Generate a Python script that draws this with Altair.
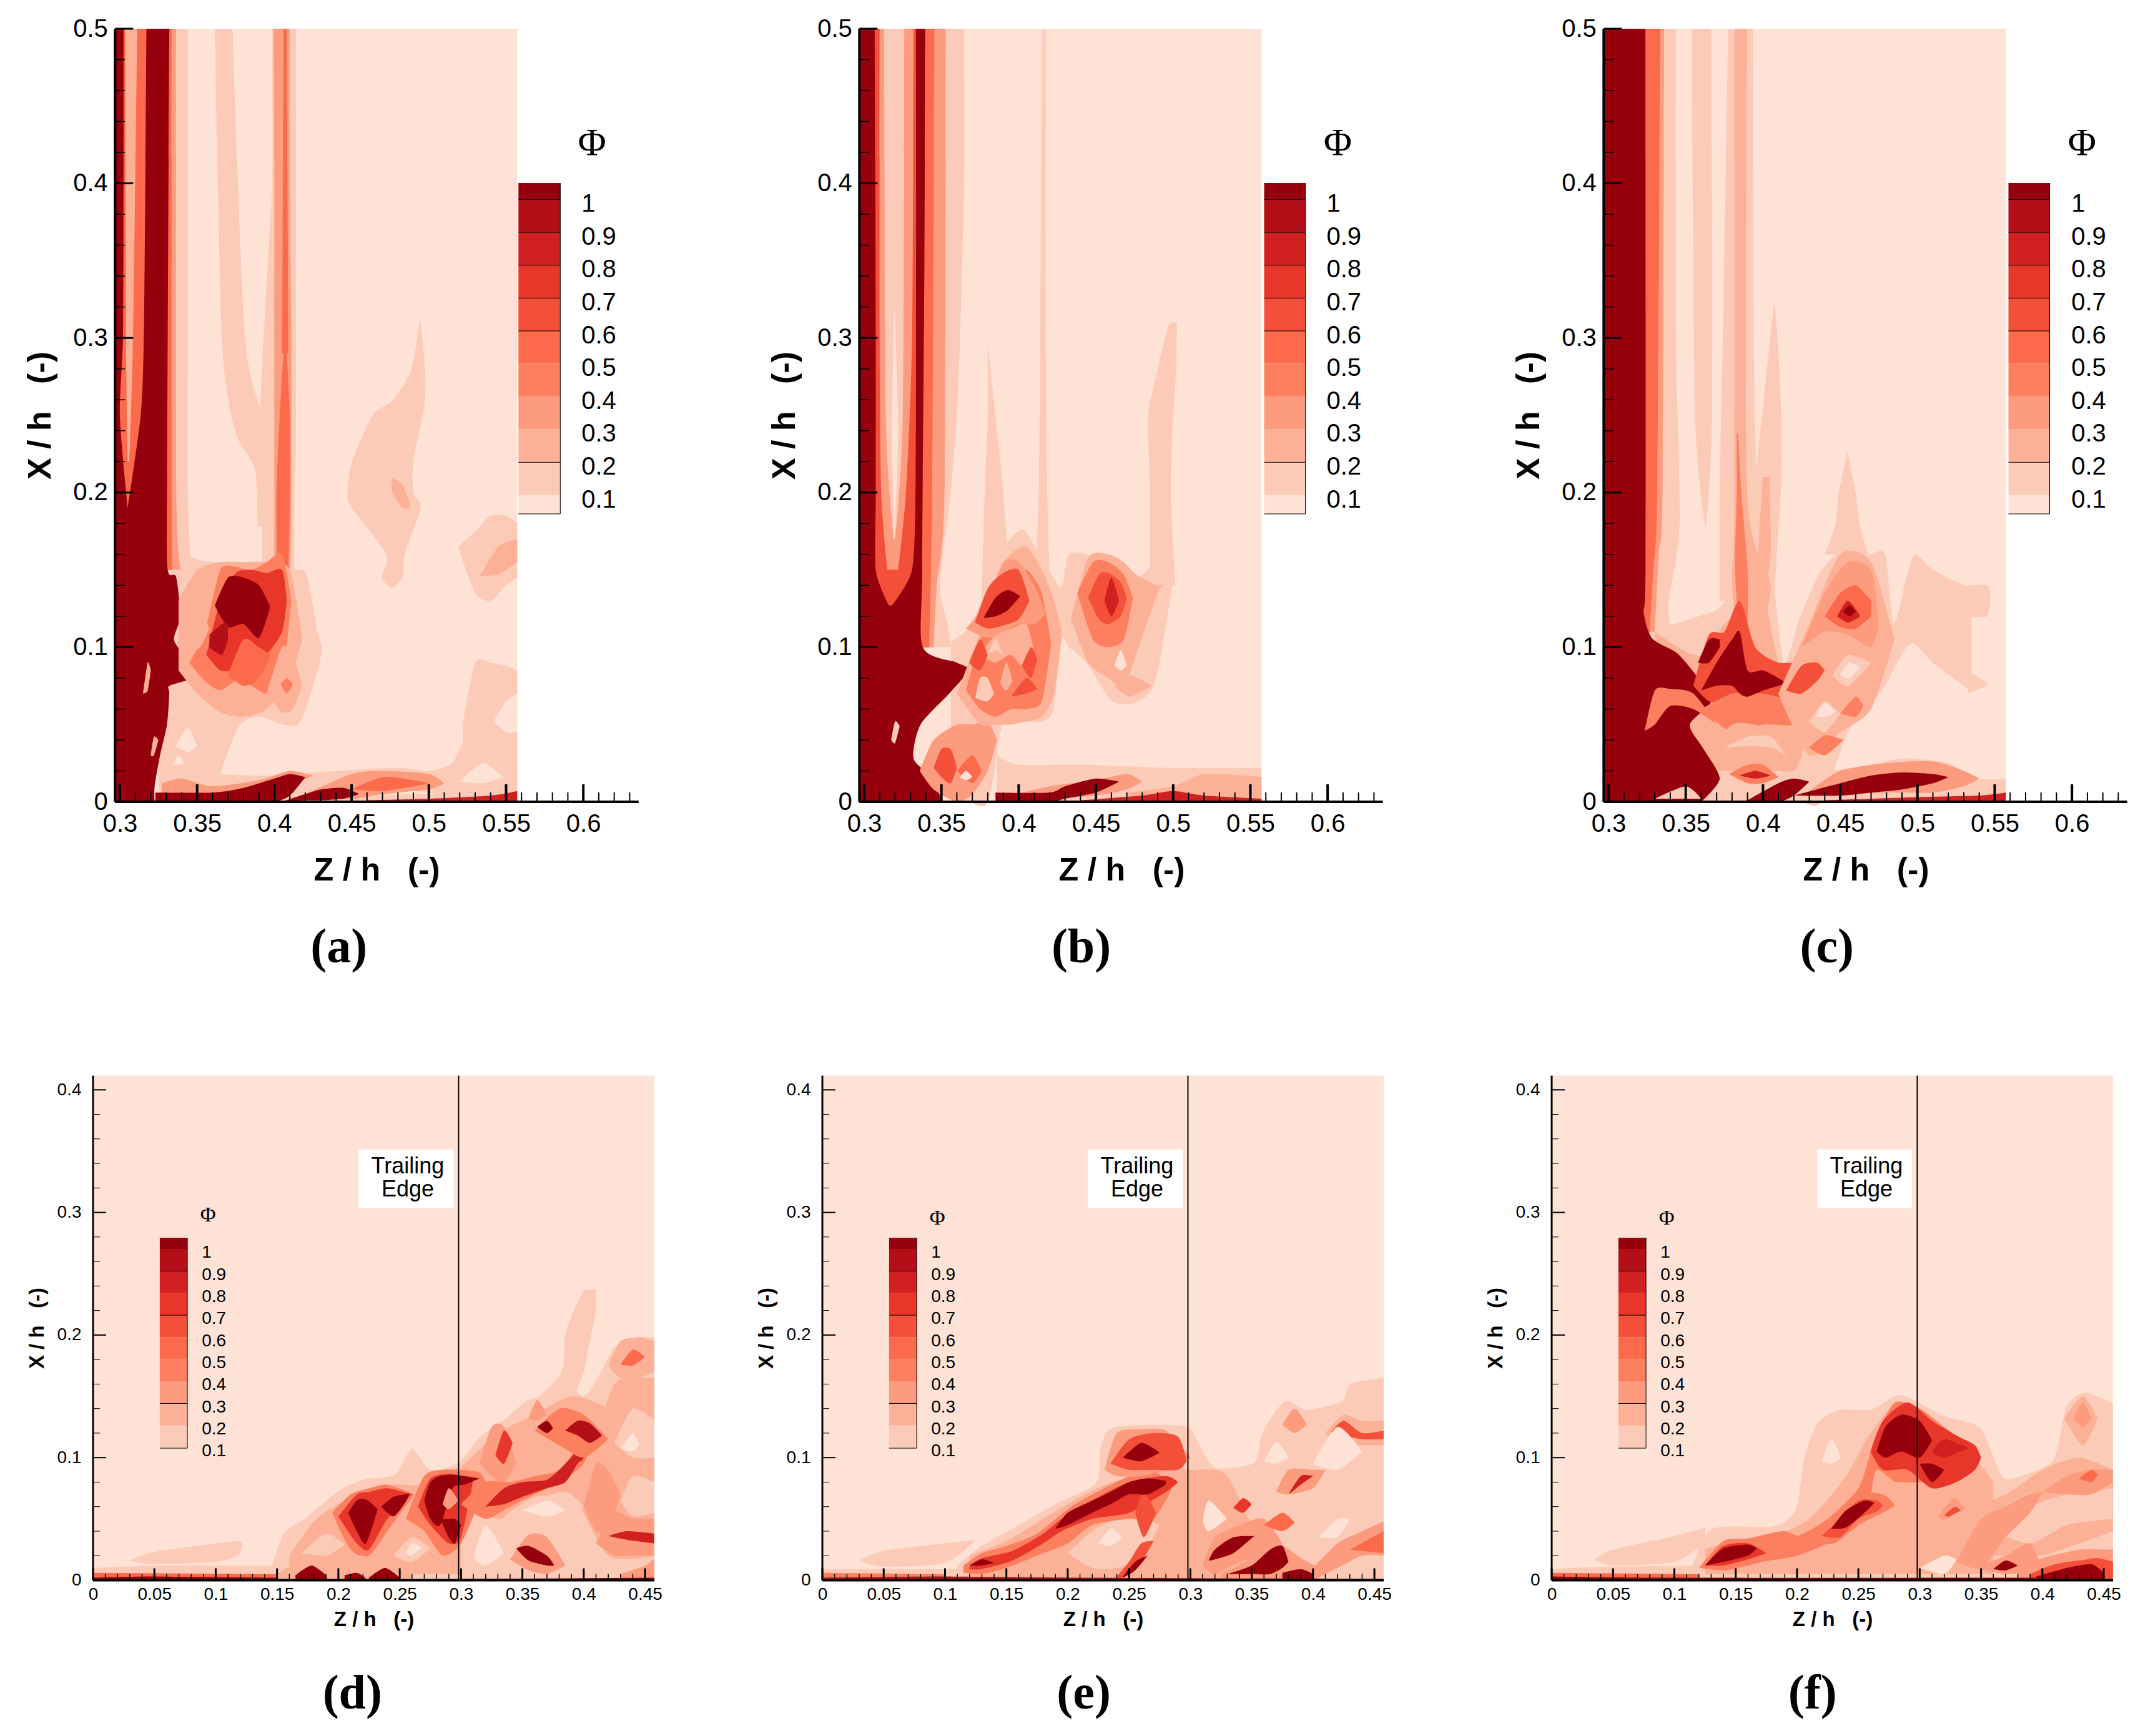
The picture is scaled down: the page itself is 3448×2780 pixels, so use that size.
import altair as alt
import pandas as pd

COL = ['#fee2d6','#fccbb8','#fcb196','#fc9b7d','#fc8060','#fb6a4a','#f44f39','#e9362b','#d02020','#b40f18','#96000c']
LEVEL_LABELS = ['1','0.9','0.8','0.7','0.6','0.5','0.4','0.3','0.2','0.1']

# each shape: band index, orientation, stations along the orientation, lower edge, upper edge
A = [
(1,'h',[.15,.2,.3,.5],.297,[.346,.344,.344,.344]),
(1,'v',[.325,.335,.345,.36,.369,.378,.39,.405,.415,.421,.428,.431],[.005,.005,.005,.005,.03,.05,.055,.05,.05,.062,.085,.098],[.15,.19,.16,.155,.155,.155,.155,.155,.15,.147,.11,.1]),
(1,'v',[.33,.36,.4,.44,.48,.5,.515,.525,.5572],0,[.02,.018,.017,.02,.022,.02,.025,.04,.04]),
(1,'v',[.522,.53,.54,.55,.5572],0,[.05,.09,.09,.088,.085]),
(0,'v',[.542,.55,.5572],[.052,.045,.045],[.052,.065,.07]),
(0,'v',[.52,.535,.548],[.013,.012,.016],[.013,.025,.016]),
(1,'v',[.519,.53,.54,.55,.5572],[.165,.135,.13,.14,.145],[.165,.175,.185,.185,.18]),
(2,'v',[.533,.545,.5572],[.146,.147,.155],[.146,.165,.17]),
(1,'h',[.138,.145,.16,.19,.2,.22,.25,.26,.28,.31],[.476,.4695,.4725,.4503,.4473,.4503,.4636,.477,.4888,.4938],[.476,.483,.4843,.4947,.49,.49,.496,.4976,.4976,.4947]),
(2,'v',[.476,.483,.488],[.2,.19,.19],[.21,.205,.192]),
(1,'h',[.178,.215,.24,.3,.5],[.389,.3875,.3745,.366,.3615],[.393,.395,.395,.381,.373]),
(1,'h',[.15,.2,.23,.3,.4,.5],[.392,.392,.39,.393,.3985,.3985],[.413,.413,.414,.414,.414,.414]),
(3,'h',[.14,.2,.3,.4,.5],[.4,.4,.4,.4,.3995],[.41,.411,.411,.41,.41]),
(5,'h',[.14,.2,.25,.29],[.402,.4015,.4035,.406],[.409,.41,.41,.408]),
(5,'h',[.29,.5],[.405,.406],[.409,.408]),
(3,'h',[.15,.2,.5],.297,[.3395,.3365,.3364]),
(5,'h',[.15,.2,.5],.297,[.334,.3335,.3335]),
(10,'h',[0,.01,.03,.05,.07,.075,.08,.088,.095,.105,.12,.1455,.15,.2,.5],.297,[.3225,.3225,.326,.3305,.332,.332,.3467,.351,.342,.335,.339,.3364,.331,.3305,.332]),
(5,'h',[.19,.25,.3,.4,.5],[.305,.3,.302,.3024,.3024],[.305,.3135,.3155,.3165,.3172]),
(2,'h',[.22,.3,.5],[.305,.304,.3035],[.306,.3085,.3112]),
(2,'v',[.338,.35,.365,.38,.395,.41,.418],[.085,.07,.058,.055,.06,.08,.105],[.13,.15,.155,.155,.155,.15,.105]),
(4,'v',[.345,.355,.365,.375,.385,.395,.405,.411],[.09,.078,.072,.078,.075,.07,.08,.13],[.09,.11,.15,.152,.15,.155,.16,.13]),
(2,'v',[.337,.345,.352,.358],[.102,.098,.1,.112],[.102,.125,.125,.112]),
(7,'v',[.356,.365,.375,.385,.395,.405,.408],[.095,.085,.085,.085,.095,.11,.13],[.095,.13,.148,.15,.148,.15,.13]),
(10,'v',[.3615,.37,.38,.39,.397],[.127,.113,.115,.106,.125],[.127,.145,.145,.14,.127]),
(9,'v',[.358,.366,.37],[.1,.095,.105],[.108,.115,.115]),
(5,'v',[.37,.38,.39,.398],[.082,.075,.08,.095],[.082,.105,.1,.095]),
(2,'v',[.395,.405,.412,.418],[.07,.058,.06,.075],[.07,.1,.095,.075]),
(4,'v',[.404,.408,.412],[.076,.07,.076],[.076,.08,.076]),
(0,'v',[.336,.344,.35],[.036,.032,.036],[.036,.048,.036]),
(0,'v',[.334,.338,.342],[.024,.024,.024],[.024,.03,.024]),
(3,'v',[.327,.34,.36,.39,.41,.425],[0,0,0,0,.01,.017],[.012,.015,.01,.014,.02,.017]),
(10,'v',[.323,.36,.38,.4,.41,.42],[0,0,0,0,.004,.016],[.006,.006,.009,.015,.018,.016]),
(3,'v',[.42,.45,.47,.5,.51],[.005,.002,.005,.008,.012],[.005,.018,.02,.018,.012]),
(5,'v',[.45,.47,.49,.5],[.008,.007,.01,.012],[.008,.016,.014,.012]),
(10,'v',[.405,.42,.43,.445,.455],[0,.001,.001,.002,.005],[0,.005,.008,.009,.005]),
(0,'v',[.47,.49,.505],[.004,.005,.005],[.004,.007,.005]),
(8,'v',[.46,.5,.54,.5572],0,[.001,.002,.004,.007]),
(2,'v',[.315,.318,.32],[.07,.072,.085],[.07,.09,.085]),
(2,'v',[.32,.322,.325],[.03,.03,.04],[.03,.042,.04]),
]

B = [
(1,'h',[.1,.115,.14,.2,.27,.4,.5],.297,[.356,.354,.349,.356,.361,.3647,.3647]),
(1,'v',[.3562,.3675,.3802,.3901,.4028,.4155,.4226,.428,.4325,.4438,.4607,.4777,.489,.5003],[0,0,0,.052,.052,.052,.06,.105,.1,.09,.065,.065,.08,.145],[.104,.1125,.139,.164,.176,.156,.145,.139,.16,.16,.152,.1455,.156,.156]),
(1,'h',[.13,.2,.25,.296],[.376,.378,.38,.38],[.395,.39,.385,.38]),
(1,'h',[.15,.2,.3,.4,.5],[.411,.413,.414,.4145,.4155],[.42,.4185,.4175,.4175,.4175]),
(1,'h',[.14,.2,.25,.28,.31],[.485,.485,.484,.49,.4975],[.5015,.4985,.5,.502,.5025]),
(1,'v',[.386,.4,.44,.5,.5572],0,[.03,.024,.024,.022,.022]),
(2,'v',[.47,.5,.52,.5572],0,[.006,.01,.018,.016]),
(3,'h',[.1,.14,.2,.5],.297,[.345,.347,.352,.3528]),
(5,'h',[.1,.2,.5],.297,[.342,.344,.3455]),
(10,'h',[0,.015,.028,.05,.07,.085,.09,.1,.15,.35,.5],.297,[.35,.345,.332,.3365,.355,.3675,.36,.338,.3375,.339,.3395]),
(6,'h',[.127,.15,.2,.3,.5],[.316,.3075,.3075,.3075,.3068],[.318,.331,.3332,.3336,.3336]),
(3,'h',[.15,.2,.3,.5],[.315,.311,.31,.31],[.322,.327,.331,.332]),
(1,'h',[.17,.25,.5],[.319,.314,.313],[.32,.325,.326]),
(0,'h',[.17,.24,.32],[.3195,.318,.3195],[.3195,.322,.3195]),
(3,'v',[.336,.345,.36,.37,.38,.386],[.02,.008,0,.005,.02,.04],[.02,.04,.05,.05,.052,.04]),
(6,'v',[.345,.35,.356,.36],[.022,.016,.012,.022],[.022,.034,.034,.022]),
(5,'v',[.36,.37,.376],[.02,.012,.02],[.02,.03,.02]),
(0,'v',[.362,.366,.37],[.016,.014,.016],[.016,.02,.016]),
(2,'v',[.36,.375,.385,.395,.405,.415,.423,.428],[.07,.05,.05,.05,.052,.055,.07,.11],[.07,.11,.145,.16,.165,.15,.13,.11]),
(4,'v',[.366,.375,.385,.395,.405,.415,.421],[.072,.06,.055,.06,.06,.065,.102],[.072,.105,.125,.14,.15,.135,.102]),
(2,'v',[.375,.385,.395,.405,.41],[.095,.09,.095,.085,.097],[.095,.108,.112,.115,.097]),
(1,'v',[.38,.385,.39],[.095,.098,.095],[.095,.105,.095]),
(1,'v',[.372,.375,.38,.384],[.067,.066,.065,.07],[.067,.08,.08,.07]),
(2,'v',[.388,.392,.396],[.077,.072,.078],[.077,.09,.078]),
(6,'v',[.395,.405,.412],[.068,.07,.073],[.068,.08,.073]),
(6,'v',[.402,.408,.412],[.088,.08,.092],[.088,.1,.092]),
(6,'v',[.368,.375,.38],[.09,.085,.095],[.09,.105,.095]),
(3,'v',[.366,.38,.39,.4,.41,.418],[.112,.106,.11,.115,.115,.122],[.112,.13,.155,.155,.14,.122]),
(6,'v',[.3718,.38,.39,.4,.407],[.116,.112,.114,.118,.13],[.116,.138,.148,.15,.13]),
(10,'v',[.3774,.385,.393,.401],[.119,.12,.124,.133],[.119,.132,.137,.133]),
(2,'v',[.4339,.445,.458,.468,.476,.49,.497],[.118,.09,.08,.075,.095,.135,.142],[.118,.158,.16,.155,.147,.14,.142]),
(2,'v',[.462,.472,.486],[.075,.068,.075],[.075,.082,.075]),
(0,'v',[.462,.466,.47],[.088,.085,.088],[.088,.098,.088]),
(4,'v',[.438,.448,.458,.468,.474],[.135,.105,.1,.105,.132],[.135,.155,.155,.147,.132]),
(6,'v',[.445,.452,.458,.466,.47],[.132,.118,.115,.12,.132],[.132,.147,.148,.142,.132]),
(8,'v',[.4555,.46,.465],[.13,.12,.13],[.13,.145,.13]),
(3,'v',[.386,.42,.45,.47,.48],[.002,.002,.004,.008,.013],[.002,.01,.014,.018,.013]),
(10,'v',[.385,.42,.43,.45,.465],[0,0,.002,.006,.013],[.006,.006,.01,.015,.013]),
(8,'v',[.44,.48,.5,.52,.5572],0,[.001,.004,.007,.004,.002]),
(1,'v',[.3175,.32,.323],[.04,.038,.049],[.04,.052,.049]),
]

C = [
(1,'h',[.115,.13,.18,.3,.5],.297,[.34,.339,.346,.3437,.3437]),
(1,'h',[.176,.25,.5],[.363,.356,.354],[.363,.367,.3665]),
(1,'h',[.13,.2,.3,.5],[.372,.372,.374,.3775],[.398,.396,.394,.3934]),
(1,'h',[.09,.13,.16,.21,.25,.29,.325],[.395,.395,.395,.3953,.3995,.4036,.4075],[.4132,.408,.409,.412,.4118,.41,.4075]),
(1,'v',[.3253,.3376,.3582,.3733,.3967,.405,.4132,.4242,.438,.4544,.468,.479,.4846,.4929,.4984,.51,.53,.535],[0,0,0,0,0,0,0,0,0,.044,.061,.075,.0857,.1,.102,.09,.075,.07],[.13,.115,.12,.127,.16,.16,.09,.12,.15,.165,.16,.16,.115,.145,.16,.15,.14,.14]),
(1,'v',[.5327,.545,.547],[.12,.12,.13],[.14,.14,.135]),
(1,'v',[.5327,.545],[.07,.075],[.085,.077]),
(1,'h',[.16,.18,.2,.226],[.44,.447,.449,.4547],[.468,.4625,.46,.4547]),
(1,'v',[.438,.46,.49,.52,.535,.5572],0,[.02,.022,.028,.025,.015,.015]),
(3,'h',[.11,.16,.2,.5],.297,[.33,.3325,.335,.336]),
(5,'h',[.1,.15,.2,.5],.297,[.326,.329,.3315,.3335]),
(2,'v',[.33,.345,.36,.375,.39,.4,.41,.42,.425,.432],[.02,.02,.02,.02,.02,.02,.02,.02,.03,.065],[.11,.1,.095,.115,.125,.135,.09,.08,.08,.065]),
(2,'h',[.1,.14,.2,.5],[.385,.38,.3816,.3816],[.395,.405,.3898,.3898]),
(4,'h',[.1,.15,.2,.238],[.385,.382,.383,.383],[.39,.39,.386,.384]),
(2,'h',[.13,.16,.21],[.4,.397,.4],[.4,.405,.404]),
(10,'h',[0,.015,.035,.05,.065,.08,.096,.106,.125,.155,.5],.297,[.36,.372,.361,.3527,.3665,.358,.3445,.328,.3225,.324,.3239]),
(4,'v',[.3235,.33,.34,.355,.37],[.046,.05,.062,.06,.05],[.046,.072,.073,.07,.05]),
(6,'v',[.355,.365,.375,.385,.395,.41,.425,.432],[.075,.065,.065,.06,.058,.065,.068,.082],[.075,.108,.11,.13,.1,.09,.09,.082]),
(4,'v',[.36,.38,.4,.42,.43],[.06,.045,.05,.05,.062],[.06,.07,.07,.065,.062]),
(10,'v',[.36,.37,.38,.385,.39,.4,.41,.415],[.072,.075,.075,.07,.068,.072,.075,.077],[.072,.09,.105,.11,.085,.085,.08,.077]),
(10,'v',[.358,.365,.372],[.09,.09,.1],[.09,.105,.105]),
(2,'v',[.365,.38,.4,.41],[.03,.03,.03,.032],[.03,.05,.048,.032]),
(1,'v',[.375,.39,.405,.415],[.035,.036,.035,.03],[.035,.042,.042,.03]),
(4,'v',[.378,.39,.4,.41],[.018,.012,.012,.016],[.018,.024,.024,.016]),
(8,'v',[.385,.395,.405],[.017,.015,.017],[.017,.02,.017]),
(2,'v',[.41,.43,.45,.47,.485],[.07,.03,.045,.06,.105],[.07,.115,.16,.155,.105]),
(3,'v',[.425,.44,.455,.47,.475],[.1,.11,.108,.1,.115],[.1,.135,.155,.15,.115]),
(5,'v',[.44,.45,.46,.47],[.12,.113,.112,.12],[.12,.135,.14,.13]),
(8,'v',[.448,.455,.463],[.12,.116,.12],[.12,.13,.12]),
(10,'v',[.452,.456,.46],[.123,.12,.123],[.123,.127,.123]),
(6,'v',[.415,.425,.435,.44],[.072,.07,.078,.085],[.072,.088,.09,.085]),
(1,'v',[.445,.455,.47],[.082,.075,.09],[.082,.095,.09]),
(0,'v',[.45,.456,.463],[.082,.08,.087],[.082,.09,.087]),
(1,'v',[.43,.44,.45],[.052,.045,.057],[.052,.065,.057]),
(0,'v',[.434,.44,.447],[.055,.055,.058],[.055,.064,.058]),
(4,'v',[.45,.46,.465],[.057,.055,.062],[.057,.068,.062]),
(4,'v',[.43,.44,.452],[.035,.03,.04],[.035,.043,.04]),
(10,'v',[.39,.41,.42,.43],[0,0,.004,.013],[.001,.012,.015,.013]),
(3,'v',[.43,.45,.48,.51,.53,.54],[.007,.005,.006,.006,.01,.015],[.007,.02,.025,.026,.02,.015]),
(10,'v',[.42,.45,.47,.49,.51,.52],[.004,.004,.006,.008,.012,.016],[.004,.012,.017,.019,.018,.016]),
(8,'v',[.44,.5,.54,.5572],0,[.001,.003,.004,.006]),
(1,'v',[.33,.35,.36],[.002,.002,.002],[.002,.01,.002]),
]

D = [
(1,'v',[.03,.05,.1,.118,.122],[.016,.013,.015,.02,.029],[.016,.023,.03,.032,.029]),
(1,'v',[0,.05,.1,.122,.146],0,[.01,.012,.012,.012,.012]),
(1,'v',[.146,.156,.174,.199,.22,.246,.26,.275,.298,.316,.334,.353,.364,.382,.4,.414,.425,.442,.4575],0,[.012,.039,.051,.072,.082,.086,.107,.09,.096,.1175,.13,.146,.15,.165,.15,.17,.19,.198,.198]),
(1,'h',[.15,.17,.2,.22,.237],[.364,.382,.385,.392,.4],[.392,.4,.406,.41,.41]),
(2,'v',[.16,.18,.2,.22,.245,.265,.285,.3],.005,[.02,.048,.062,.072,.078,.078,.088,.092]),
(2,'v',[.3,.33,.36,.39,.42,.4575],[.07,.05,.065,.07,.02,.02],[.092,.12,.135,.15,.14,.11]),
(1,'v',[.17,.19,.205],[.022,.02,.029],[.022,.038,.029]),
(1,'v',[.245,.26,.275],[.02,.015,.026],[.02,.035,.026]),
(0,'v',[.255,.26,.268],[.022,.02,.027],[.022,.03,.027]),
(1,'v',[.3,.32,.34,.36,.38,.4],[0,.005,.01,.02,.01,0],[.04,.05,.045,.04,.03,.04]),
(0,'v',[.31,.32,.335],[.018,.012,.022],[.018,.045,.022]),
(1,'v',[.335,.36,.39,.4],[.052,.05,.05,.06],[.052,.068,.068,.06]),
(0,'v',[.35,.37,.385],[.057,.052,.057],[.057,.065,.057]),
(2,'v',[.41,.425,.44,.4575],[.12,.09,.08,.08],[.12,.16,.165,.165]),
(1,'v',[.425,.44,.4575],[.112,.1,.1],[.112,.14,.13]),
(0,'v',[.43,.44,.445],[.107,.105,.11],[.107,.12,.11]),
(3,'v',[.4,.41,.42,.43],[.06,.04,.04,.07],[.06,.095,.09,.07]),
(1,'v',[.43,.44,.4575],[.065,.052,.055],[.065,.085,.08]),
(4,'v',[.195,.21,.225,.24,.262],[.055,.025,.02,.04,.07],[.055,.07,.075,.078,.07]),
(7,'v',[.2,.215,.225,.24,.26],[.052,.03,.025,.05,.07],[.052,.07,.072,.075,.07]),
(10,'v',[.208,.215,.2225,.232],[.055,.04,.03,.058],[.055,.065,.066,.058]),
(10,'v',[.235,.245,.255,.258],[.06,.052,.064,.071],[.06,.068,.07,.071]),
(4,'v',[.255,.27,.285,.3,.315,.32],[.05,.04,.02,.03,.065,.08],[.05,.085,.09,.09,.088,.08]),
(7,'v',[.265,.275,.29,.3,.31],[.06,.045,.03,.035,.082],[.06,.083,.087,.085,.082]),
(10,'v',[.27,.275,.283,.293,.303,.315],[.065,.05,.045,.075,.078,.083],[.065,.08,.085,.086,.085,.083]),
(10,'v',[.283,.29,.295,.3],[.05,.035,.03,.045],[.05,.05,.05,.045]),
(3,'v',[.285,.29,.298],[.062,.058,.065],[.062,.075,.065]),
(3,'v',[.315,.325,.335,.345],[.095,.085,.08,.095],[.095,.125,.125,.095]),
(7,'v',[.328,.335,.342],[.102,.095,.112],[.102,.122,.112]),
(4,'v',[.3,.32,.34,.36,.38,.4,.41],[.062,.05,.06,.07,.08,.095,.122],[.062,.08,.08,.085,.09,.115,.122]),
(8,'v',[.32,.335,.35,.37,.385,.395,.4,.405],[.06,.062,.068,.075,.08,.095,.1,.12],[.06,.075,.08,.082,.095,.107,.12,.12]),
(4,'v',[.36,.38,.4,.42],[.122,.11,.1,.115],[.122,.14,.135,.115]),
(10,'v',[.362,.37,.375],[.125,.12,.124],[.125,.13,.124]),
(9,'v',[.385,.395,.405,.415],[.122,.118,.112,.118],[.122,.13,.128,.118]),
(3,'v',[.355,.362,.37],[.132,.13,.135],[.132,.147,.135]),
(3,'v',[.34,.355,.37,.385],[.017,.008,.005,.012],[.017,.037,.035,.012]),
(10,'v',[.345,.355,.37,.376],[.026,.016,.012,.012],[.026,.028,.02,.012]),
(3,'v',[.41,.425,.44,.4575],[.03,.02,.02,.02],[.03,.055,.05,.05]),
(8,'v',[.42,.435,.4575],[.036,.033,.03],[.036,.04,.038]),
(2,'v',[.42,.43,.445,.4575],[.175,.165,.165,.17],[.175,.195,.198,.195]),
(5,'v',[.43,.44,.45],[.176,.175,.182],[.176,.188,.182]),
(2,'v',[.15,.165,.18,.2,.22,.24,.26],0,[.005,.014,.018,.008,.006,.015,.004]),
(10,'v',[.165,.178,.19],0,[.004,.012,.004]),
(10,'v',[.205,.215,.222],0,[.004,.006,.002]),
(10,'v',[.225,.238,.25],0,[.002,.01,.002]),
(5,'v',[0,.15],0,[.006,.005]),
(10,'v',[0,.05,.15],0,[.002,.003,.002]),
(3,'v',[.43,.45,.4575],0,[.005,.012,.018]),
(10,'v',[.3,.4575],0,[.001,.002]),
]

E = [
(1,'v',[0,.1,.12],0,[.009,.009,.009]),
(1,'v',[.03,.05,.1,.125],[.016,.011,.014,.033],[.016,.024,.03,.033]),
(1,'v',[.11,.13,.16,.19,.223,.2268,.2375,.2947,.3054,.3144,.3233,.352,.359,.377,.395,.4235,.4306,.4575],0,[.012,.028,.045,.062,.079,.107,.1245,.126,.114,.098,.091,.096,.121,.146,.139,.146,.16,.165]),
(2,'v',[.12,.15,.18,.21,.235],0,[.02,.032,.05,.068,.08]),
(2,'v',[.235,.26,.28,.3,.33,.36],0,[.08,.085,.09,.09,.085,.02]),
(1,'v',[.2,.22,.24,.26,.275],[.022,.01,.01,.02,.045],[.022,.04,.05,.05,.045]),
(0,'v',[.225,.235,.245],[.03,.028,.035],[.03,.042,.035]),
(4,'v',[.115,.13,.15,.175,.2,.22,.25,.27,.285],[.006,.005,.01,.02,.03,.045,.05,.05,.075],[.012,.022,.028,.038,.058,.07,.085,.09,.075]),
(7,'v',[.12,.13,.155,.18,.195,.22,.25,.28,.29],[.009,.009,.016,.03,.04,.05,.055,.072,.08],[.012,.018,.024,.038,.05,.065,.08,.085,.08]),
(6,'v',[.255,.262,.272],[.055,.035,.055],[.055,.072,.055]),
(10,'v',[.19,.2,.22,.235,.25,.265,.28],[.042,.045,.055,.062,.07,.07,.078],[.042,.055,.065,.072,.08,.083,.081]),
(10,'v',[.12,.13,.14],[.012,.012,.014],[.012,.017,.014]),
(3,'v',[.23,.24,.26,.28,.3],[.09,.085,.085,.09,.1],[.09,.12,.123,.122,.1]),
(6,'v',[.235,.25,.27,.29,.297],[.095,.09,.09,.09,.097],[.095,.115,.12,.117,.097]),
(10,'v',[.245,.26,.275],[.1,.097,.104],[.1,.112,.104]),
(6,'v',[.24,.25,.26,.27],[0,.005,.015,.032],[.003,.015,.03,.032]),
(10,'v',[.245,.255,.265],[.002,.008,.02],[.003,.015,.02]),
(0,'v',[.31,.315,.33],[.048,.04,.05],[.048,.065,.05]),
(3,'v',[.31,.32,.34,.36,.375],[.012,.005,.015,.02,.03],[.012,.035,.045,.05,.03]),
(10,'v',[.315,.32,.335,.352],[.016,.017,.022,.036],[.016,.025,.035,.036]),
(3,'v',[.325,.345,.37,.39,.405],0,[.005,.015,.03,.018,.01]),
(10,'v',[.33,.35,.365,.375,.38],[.005,.005,.005,.01,.015],[.005,.012,.025,.028,.015]),
(10,'v',[.375,.39,.4],0,[.006,.009,.005]),
(7,'v',[.335,.343,.35],[.059,.055,.062],[.059,.067,.062]),
(3,'v',[.37,.38,.4,.41],[.072,.07,.075,.09],[.072,.09,.09,.09]),
(8,'v',[.38,.39,.4],[.07,.078,.085],[.07,.085,.085]),
(2,'v',[.41,.425,.44,.4575],[.12,.11,.11,.11],[.12,.135,.13,.13]),
(6,'v',[.415,.425,.44,.4575],[.121,.118,.115,.115],[.121,.13,.12,.122]),
(3,'v',[.375,.385,.395],[.127,.12,.127],[.127,.14,.127]),
(0,'v',[.36,.37,.38],[.097,.095,.1],[.097,.113,.1]),
(0,'v',[.4,.42,.44],[.095,.09,.105],[.095,.125,.105]),
(3,'v',[.4,.42,.44,.4575],[0,.01,.02,.02],[.01,.03,.04,.048]),
(5,'v',[.43,.4575],[.025,.022],[.025,.04]),
(0,'v',[.405,.42,.43],[.035,.035,.05],[.035,.05,.05]),
(5,'v',[.36,.375,.385],[.045,.04,.047],[.045,.055,.047]),
(4,'v',[0,.1],0,[.006,.005]),
(9,'v',[0,.1,.22,.4575],0,[.002,.003,.002,.001]),
]

F = [
(1,'v',[0,.04,.12],0,[.009,.011,.012]),
(1,'v',[.035,.05,.1,.125],[.017,.012,.015,.03],[.017,.025,.036,.043]),
(1,'v',[.115,.131,.181,.199,.206,.2167,.2346,.26,.285,.317,.349,.3616,.3705,.3956,.41,.42,.435,.4575],0,[.012,.042,.044,.058,.1,.128,.139,.139,.151,.135,.1245,.0965,.0825,.0895,.1,.142,.153,.144]),
(0,'v',[.22,.228,.236],[.097,.095,.1],[.097,.115,.1]),
(2,'v',[.125,.15,.18,.21,.24,.26,.285,.32,.345,.36],.005,[.025,.033,.036,.05,.085,.12,.145,.125,.1,.08]),
(4,'v',[.125,.14,.17,.2,.225,.25,.26,.265,.28,.3,.32,.34,.35],[.012,.012,.015,.02,.03,.045,.07,.09,.08,.07,.09,.09,.1],[.012,.03,.032,.036,.05,.075,.105,.12,.145,.14,.125,.11,.1]),
(2,'v',[.26,.28,.3,.32],[.08,.068,.06,.085],[.08,.08,.08,.085]),
(7,'v',[.26,.27,.29,.31,.33,.345,.35],[.105,.09,.09,.075,.08,.09,.1],[.105,.13,.145,.13,.118,.11,.1]),
(10,'v',[.265,.272,.285,.3,.31],[.105,.1,.105,.1,.114],[.105,.125,.135,.13,.114]),
(10,'v',[.3,.31,.32],[.095,.08,.09],[.095,.095,.09]),
(8,'v',[.31,.32,.34],[.105,.1,.108],[.105,.115,.108]),
(4,'v',[.21,.23,.25,.27,.28],[.032,.03,.045,.055,.061],[.032,.05,.07,.07,.061]),
(6,'v',[.22,.235,.25,.265,.27],[.036,.035,.05,.056,.061],[.036,.05,.065,.065,.061]),
(10,'v',[.228,.24,.255,.263],[.042,.043,.055,.063],[.042,.057,.065,.063]),
(4,'v',[.12,.14,.16,.19,.21],[.01,.008,.012,.02,.03],[.01,.032,.034,.04,.03]),
(7,'v',[.125,.14,.16,.175],[.012,.012,.017,.022],[.012,.028,.03,.022]),
(10,'v',[.125,.14,.16,.167],[.012,.015,.02,.026],[.012,.026,.029,.026]),
(3,'v',[.315,.328,.34],[.052,.045,.055],[.052,.067,.055]),
(6,'v',[.32,.329,.335],[.053,.05,.055],[.053,.06,.055]),
(0,'v',[.3,.32,.33],[.01,.005,.017],[.01,.02,.017]),
(2,'v',[.3,.33,.37,.4,.43,.4575],[.035,.02,.02,.02,.03,.04],[.035,.055,.07,.09,.1,.09]),
(1,'v',[.36,.39,.42,.4575],[.04,.03,.045,.05],[.04,.06,.07,.075]),
(3,'v',[.33,.35,.37,.39,.4],[.015,.01,.035,.055,.072],[.015,.05,.06,.07,.072]),
(3,'v',[.4,.42,.44,.4575],[.072,.07,.07,.08],[.072,.085,.09,.09]),
(5,'v',[.43,.44,.445],[.083,.08,.086],[.083,.09,.086]),
(2,'v',[.418,.433,.445],[.132,.11,.132],[.132,.15,.132]),
(3,'v',[.425,.433,.44],[.132,.125,.132],[.132,.145,.132]),
(3,'v',[.345,.37,.39,.4],[.01,.005,.007,.008],[.01,.02,.03,.008]),
(10,'v',[.36,.37,.38],[.009,.008,.012],[.009,.016,.012]),
(3,'v',[.38,.4,.43,.45,.4575],0,[.012,.018,.025,.025,.025]),
(6,'v',[.39,.41,.43,.445,.4575],0,[.005,.013,.016,.018,.015]),
(10,'v',[.395,.42,.44,.45],0,[.003,.01,.013,.006]),
(5,'v',[0,.12],0,[.006,.005]),
(10,'v',[0,.1,.45],0,[.003,.002,.002]),
]

# axis ticks
TOP_X_MAJOR = [.3,.35,.4,.45,.5,.55,.6]
TOP_X_MINOR = [.31,.32,.33,.34,.36,.37,.38,.39,.41,.42,.43,.44,.46,.47,.48,.49,.51,.52,.53,.54,.56,.57,.58,.59,.61,.62,.63]
TOP_Y_MAJOR = [0,.1,.2,.3,.4,.5]
TOP_Y_MINOR = [.02,.04,.06,.08,.12,.14,.16,.18,.22,.24,.26,.28,.32,.34,.36,.38,.42,.44,.46,.48]
BOT_X_MAJOR = [0,.05,.1,.15,.2,.25,.3,.35,.4,.45]
BOT_X_MINOR = [.01,.02,.03,.04,.06,.07,.08,.09,.11,.12,.13,.14,.16,.17,.18,.19,.21,.22,.23,.24,.26,.27,.28,.29,.31,.32,.33,.34,.36,.37,.38,.39,.41,.42,.43,.44]
BOT_Y_MAJOR = [0,.1,.2,.3,.4]
BOT_Y_MINOR = [.02,.04,.06,.08,.12,.14,.16,.18,.22,.24,.26,.28,.32,.34,.36,.38]
TITLE_Z = 'Z / h\u00a0\u00a0\u00a0(-)'
TITLE_X = 'X / h\u00a0\u00a0\u00a0(-)'
FONT = 'Liberation Sans'
SERIF = 'Liberation Serif'


def num(v, n):
    return list(v) if isinstance(v, (list, tuple)) else [v] * n


def shape_layer(s, xs, ys):
    lv, o, p, a, b = s
    df = pd.DataFrame({'p': p, 'a': num(a, len(p)), 'b': num(b, len(p))})
    if o == 'v':
        return alt.Chart(df).mark_area(color=COL[lv], interpolate='cardinal', tension=0.25, orient='vertical').encode(
            x=alt.X('p:Q', scale=xs, axis=None),
            y=alt.Y('a:Q', scale=ys, axis=None, stack=None), y2='b:Q')
    return alt.Chart(df).mark_area(color=COL[lv], interpolate='cardinal', tension=0.25, orient='horizontal').encode(
        y=alt.Y('p:Q', scale=ys, axis=None),
        x=alt.X('a:Q', scale=xs, axis=None, stack=None), x2='b:Q')


def rect(x0, x1, y0, y1, color, xs, ys):
    df = pd.DataFrame({'x0': [x0], 'x1': [x1], 'y0': [y0], 'y1': [y1]})
    return alt.Chart(df).mark_rect(color=color).encode(
        x=alt.X('x0:Q', scale=xs, axis=None), x2='x1:Q',
        y=alt.Y('y0:Q', scale=ys, axis=None), y2='y1:Q')


def rule(x0, x1, y0, y1, w, xs, ys):
    df = pd.DataFrame({'x0': [x0], 'x1': [x1], 'y0': [y0], 'y1': [y1]})
    return alt.Chart(df).mark_rule(color='black', strokeWidth=w).encode(
        x=alt.X('x0:Q', scale=xs, axis=None), x2='x1:Q',
        y=alt.Y('y0:Q', scale=ys, axis=None), y2='y1:Q')


def text(x, y, t, size, xs, ys, font=FONT, align='left', weight='normal'):
    df = pd.DataFrame({'x': [x], 'y': [y], 't': [t]})
    return alt.Chart(df).mark_text(font=font, fontSize=size, align=align, baseline='middle', color='black', fontWeight=weight).encode(
        x=alt.X('x:Q', scale=xs, axis=None), y=alt.Y('y:Q', scale=ys, axis=None), text='t:N')


def xticks(vals, H, length, w, xs, ys):
    return alt.Chart(pd.DataFrame({'v': vals})).mark_rule(color='black', strokeWidth=w).encode(
        x=alt.X('v:Q', scale=xs, axis=None), y=alt.value(H), y2=alt.value(H - length))


def yticks(vals, x0, length, w, xs, ys):
    return alt.Chart(pd.DataFrame({'v': vals})).mark_rule(color='black', strokeWidth=w).encode(
        y=alt.Y('v:Q', scale=ys, axis=None), x=alt.value(x0), x2=alt.value(x0 + length))


def legend(lx0, lx1, ltop, b0, step, lbot, lab_x, lab_y0, phi_x, phi_y, lab_size, lab_font, phi_size, lines, xs, ys):
    out = [rect(lx0, lx1, ltop, b0, COL[10], xs, ys)]
    for i in range(9):
        out.append(rect(lx0, lx1, b0 - i * step, b0 - (i + 1) * step, COL[9 - i], xs, ys))
    out.append(rect(lx0, lx1, b0 - 9 * step, lbot, COL[0], xs, ys))
    for i in lines:
        yy = b0 - i * step
        out.append(rule(lx0, lx1, yy, yy, 1, xs, ys))
    out.append(rule(lx1, lx1, ltop, lbot, 1, xs, ys))
    out.append(rule(lx0, lx1, lbot, lbot, 1, xs, ys))
    for i, lab in enumerate(LEVEL_LABELS):
        out.append(text(lab_x, lab_y0 - i * step, lab, lab_size, xs, ys, font=lab_font))
    out.append(text(phi_x, phi_y, '\u03a6', phi_size, xs, ys, font=SERIF, align='center'))
    return out


TOP_PX = 2474.0
TOP_LEFT = .2969
TOP_H = 1238
BOT_H = 808


def top_panel(shapes, caption, cap_z, lx0, lx1, lab_x, phi_x, width, inset, title_x):
    z0 = TOP_LEFT - inset / TOP_PX
    xs = alt.Scale(domain=[z0, z0 + width / TOP_PX], nice=False, zero=False)
    ys = alt.Scale(domain=[0, .5], nice=False, zero=False)
    df = pd.DataFrame({'x0': [.2969], 'x1': [.5572], 'y0': [0], 'y1': [.5]})
    base = alt.Chart(df).mark_rect(color=COL[0]).encode(
        x=alt.X('x0:Q', scale=xs, axis=alt.Axis(
            values=TOP_X_MAJOR, format='~g', ticks=False, domain=False, grid=False, labelFont=FONT,
            labelFontSize=40, labelColor='black', labelPadding=15, labelOverlap=False, labelFlush=False,
            title=TITLE_Z, titleFont=FONT, titleFontSize=52, titleFontWeight='bold', titleColor='black',
            titleX=title_x, titleY=109, titleBaseline='middle')),
        x2='x1:Q',
        y=alt.Y('y0:Q', scale=ys, axis=alt.Axis(
            values=TOP_Y_MAJOR, format='~g', ticks=False, domain=False, grid=False, labelFont=FONT,
            labelFontSize=40, labelColor='black', labelPadding=12, labelOverlap=False, labelFlush=False,
            offset=-inset, title=TITLE_X, titleFont=FONT, titleFontSize=52, titleFontWeight='bold', titleColor='black',
            titleX=-120, titleBaseline='middle')),
        y2='y1:Q')
    layers = [base] + [shape_layer(s, xs, ys) for s in shapes]
    layers += legend(lx0, lx1, .4002, .3895, .02124, .1862, lab_x, .3864, phi_x, .4261, 40, FONT, 62,
                     [0, 1, 2, 3, 4, 8], xs, ys)
    layers += [
        xticks(TOP_X_MAJOR, TOP_H, 28, 4, xs, ys), xticks(TOP_X_MINOR, TOP_H, 15, 2, xs, ys),
        yticks(TOP_Y_MAJOR, inset, 29, 3, xs, ys), yticks(TOP_Y_MINOR, inset, 16, 1.5, xs, ys),
        rule(.2969, .6358, 0, 0, 4, xs, ys), rule(.2969, .2969, 0, .5, 4, xs, ys),
        text(cap_z, -.0945, caption, 78, xs, ys, font=SERIF, align='center', weight='bold'),
    ]
    return alt.layer(*layers).resolve_axis(x='independent', y='independent').properties(width=width, height=TOP_H, view=alt.ViewConfig(stroke=None))


def bottom_panel(shapes, caption, cap_z, phi_y):
    xs = alt.Scale(domain=[0, .4576], nice=False, zero=False)
    ys = alt.Scale(domain=[0, .4116], nice=False, zero=False)
    df = pd.DataFrame({'x0': [0], 'x1': [.4576], 'y0': [0], 'y1': [.4116]})
    base = alt.Chart(df).mark_rect(color=COL[0]).encode(
        x=alt.X('x0:Q', scale=xs, axis=alt.Axis(
            values=BOT_X_MAJOR, format='~g', ticks=False, domain=False, grid=False, labelFont=FONT,
            labelFontSize=28, labelColor='black', labelPadding=9, labelOverlap=False, labelFlush=False,
            title=TITLE_Z, titleFont=FONT, titleFontSize=33, titleFontWeight='bold', titleColor='black',
            titleX=449.5, titleY=63, titleBaseline='middle')),
        x2='x1:Q',
        y=alt.Y('y0:Q', scale=ys, axis=alt.Axis(
            values=BOT_Y_MAJOR, format='~g', ticks=False, domain=False, grid=False, labelFont=FONT,
            labelFontSize=28, labelColor='black', labelPadding=19, labelOverlap=False, labelFlush=False,
            title=TITLE_X, titleFont=FONT, titleFontSize=33, titleFontWeight='bold', titleColor='black',
            titleX=-90, titleBaseline='middle')),
        y2='y1:Q')
    layers = [base] + [shape_layer(s, xs, ys) for s in shapes]
    layers += legend(.0544, .0769, .2793, .2702, .018, .1077, .0887, .2670, .0937, phi_y, 28, FONT, 34,
                     [1, 3, 7], xs, ys)
    layers += [
        rect(.2164, .2938, .3034, .3513, 'white', xs, ys),
        text(.2565, .3373, 'Trailing', 36, xs, ys, align='center'),
        text(.2565, .3188, 'Edge', 36, xs, ys, align='center'),
        rule(.298, .298, 0, .4116, 2, xs, ys),
        xticks(BOT_X_MAJOR, BOT_H, 19, 3, xs, ys), xticks(BOT_X_MINOR, BOT_H, 10, 1.5, xs, ys),
        yticks(BOT_Y_MAJOR, 0, 21, 2, xs, ys), yticks(BOT_Y_MINOR, 0, 11, 1, xs, ys),
        rule(0, .4576, 0, 0, 4, xs, ys), rule(0, 0, 0, .4116, 3, xs, ys),
        text(cap_z, -.0932, caption, 78, xs, ys, font=SERIF, align='center', weight='bold'),
    ]
    return alt.layer(*layers).resolve_axis(x='independent', y='independent').properties(width=899, height=BOT_H, view=alt.ViewConfig(stroke=None))


chart = alt.concat(
    top_panel(A, '(a)', .4418, .558, .5851, .5988, .6057, 899, 35.3, 454),
    top_panel(B, '(b)', .4405, .5589, .5856, .5993, .6066, 899, 59.3, 479),
    top_panel(C, '(c)', .4414, .5589, .5856, .5996, .6066, 923, 83.3, 503),
    bottom_panel(D, '(d)', .2114, .298),
    bottom_panel(E, '(e)', .2131, .295),
    bottom_panel(F, '(f)', .2126, .295),
    columns=3, spacing={'row': 438.5, 'column': 269}, align='none', bounds='flush',
).properties(padding={'left': 30, 'top': 18, 'right': 0, 'bottom': 0}).configure_view(stroke=None)

chart.save("out.html", embed_options={"renderer": "svg", "actions": False})
